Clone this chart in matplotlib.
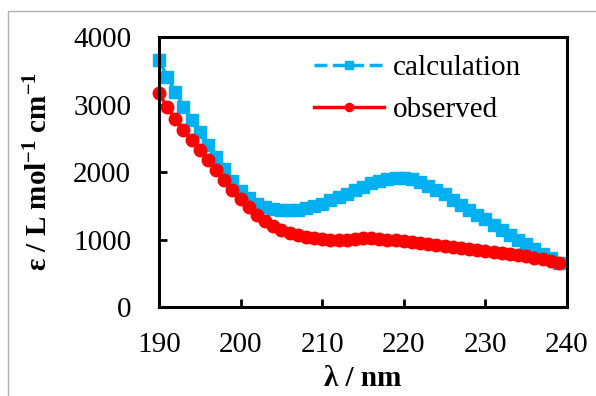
import matplotlib
matplotlib.use("Agg")
import matplotlib.pyplot as plt
from matplotlib.patches import Rectangle

# Absorption spectrum: calculated vs observed

plt.rcParams['font.family'] = ['Liberation Serif', 'DejaVu Serif']
plt.rcParams['mathtext.fontset'] = 'custom'
plt.rcParams['mathtext.rm'] = 'Liberation Serif'
plt.rcParams['mathtext.bf'] = 'Liberation Serif:bold'
plt.rcParams['mathtext.default'] = 'bf'

wavelength = list(range(190, 240))

calculation = [3660, 3410, 3190, 2970, 2770, 2590, 2400, 2220, 2040, 1870,
               1720, 1610, 1530, 1480, 1450, 1435, 1430, 1440, 1460, 1490,
               1530, 1580, 1630, 1680, 1730, 1780, 1830, 1870, 1895, 1910,
               1910, 1890, 1850, 1800, 1740, 1670, 1590, 1510, 1440, 1370,
               1300, 1220, 1140, 1070, 1000, 930, 860, 790, 720, 650]

observed = [3170, 2960, 2780, 2620, 2470, 2330, 2180, 2030, 1880, 1740,
            1600, 1480, 1370, 1280, 1200, 1140, 1100, 1070, 1040, 1020,
            1010, 1000, 995, 1000, 1010, 1020, 1020, 1010, 1000, 990,
            980, 970, 955, 940, 925, 910, 895, 880, 865, 850,
            835, 820, 805, 790, 770, 750, 730, 705, 680, 650]

x_ticks = [190, 200, 210, 220, 230, 240]
y_ticks = [0, 1000, 2000, 3000, 4000]

fig = plt.figure(figsize=(5.96, 3.96), dpi=100)
fig.patches.append(Rectangle((8 / 596, -0.01), 1.0, 1 - 11 / 396 + 0.01,
                             transform=fig.transFigure, fill=False,
                             edgecolor='#b0b0b0', linewidth=1.0))
ax = fig.add_axes([159 / 596, 1 - 307 / 396, 408 / 596, 270 / 396])

ax.plot(wavelength, calculation, color='#00b0f0', linestyle='--', linewidth=2.5,
        marker='s', markersize=8, label='calculation', clip_on=False)
ax.plot(wavelength, observed, color='#ff0000', linestyle='-', linewidth=2.5,
        marker='o', markersize=9, label='observed', clip_on=False)

ax.set_xlim(190, 240)
ax.set_ylim(0, 4000)
ax.set_xticks(x_ticks)
ax.set_yticks(y_ticks)
ax.tick_params(direction='in', length=6, width=2, labelsize=21)
ax.tick_params(axis='y', pad=20)
ax.tick_params(axis='x', pad=18)
for s in ax.spines.values():
    s.set_linewidth(2.2)

ax.set_xlabel('λ / nm', fontsize=21, fontweight='bold', labelpad=5)
ax.set_ylabel('ε / L mol$^{-1}$ cm$^{-1}$', fontsize=21, fontweight='bold',
              labelpad=14)

ax.legend(loc='upper right', frameon=False, fontsize=21, handlelength=2.4,
          handletextpad=0.3, labelspacing=0.55, markerscale=0.65,
          borderaxespad=0.2, bbox_to_anchor=(0.93, 1.0))

fig.savefig('out.png', dpi=100)
